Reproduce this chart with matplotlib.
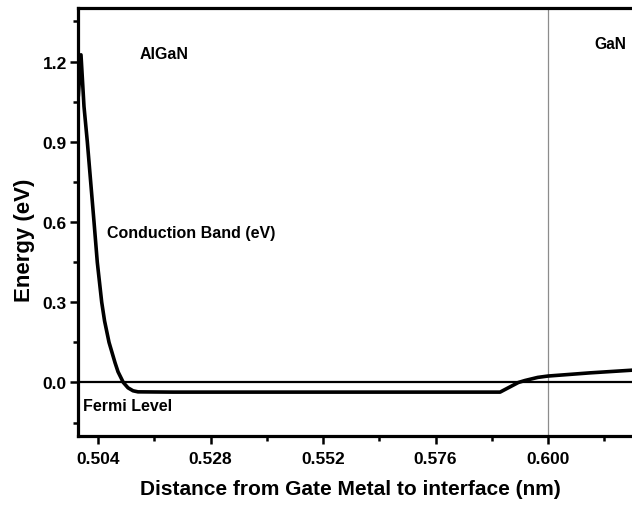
import matplotlib
matplotlib.use("Agg")
import matplotlib.pyplot as plt
from matplotlib.ticker import FixedLocator

plt.rcParams['font.family'] = ['Liberation Sans', 'DejaVu Sans']
plt.rcParams['font.weight'] = 'bold'

# Conduction band profile
x_cb = [0.4998, 0.50037, 0.50101, 0.50172, 0.50244, 0.50315, 0.50385, 0.50479,
        0.50540, 0.50635, 0.50763, 0.50827, 0.50940, 0.51040, 0.51147, 0.51253,
        0.5200, 0.5500, 0.5800, 0.58976, 0.59366, 0.59509, 0.59780, 0.59993,
        0.60896, 0.61792]
y_cb = [1.07, 1.225, 1.032, 0.900, 0.749, 0.600, 0.449, 0.300,
        0.230, 0.150, 0.074, 0.040, 0.000, -0.020, -0.031, -0.035,
        -0.036, -0.036, -0.036, -0.036, 0.000, 0.0075, 0.019, 0.024,
        0.036, 0.046]

fermi_level = 0.0
interface_x = 0.600

x_major = [0.504, 0.528, 0.552, 0.576, 0.600]
x_labels = ["0.504", "0.528", "0.552", "0.576", "0.600"]
x_minor = [0.516, 0.540, 0.564, 0.588, 0.612]
y_major = [0.0, 0.3, 0.6, 0.9, 1.2]
y_labels = ["0.0", "0.3", "0.6", "0.9", "1.2"]
y_minor = [-0.15, 0.15, 0.45, 0.75, 1.05, 1.35]

fig = plt.figure(figsize=(6.32, 5.06), dpi=100)
ax = fig.add_axes([0.1234, 0.1364, 0.8766, 0.8458])

ax.axvline(interface_x, color='#8c8c8c', lw=0.9, zorder=1)
ax.axhline(fermi_level, color='black', lw=1.6, zorder=2)
ax.plot(x_cb, y_cb, color='black', lw=2.6, zorder=3, solid_joinstyle='round',
        solid_capstyle='round')

ax.set_xlim(0.49973, 0.6179)
ax.set_ylim(-0.2, 1.4)

ax.xaxis.set_major_locator(FixedLocator(x_major))
ax.set_xticklabels(x_labels)
ax.xaxis.set_minor_locator(FixedLocator(x_minor))
ax.yaxis.set_major_locator(FixedLocator(y_major))
ax.set_yticklabels(y_labels)
ax.yaxis.set_minor_locator(FixedLocator(y_minor))

ax.tick_params(which='major', direction='out', length=5.5, width=1.8, labelsize=12.5, pad=2.5)
ax.tick_params(axis='x', which='major', pad=5)
ax.tick_params(which='minor', direction='out', length=3.5, width=1.8)
for lab in ax.get_xticklabels() + ax.get_yticklabels():
    lab.set_fontweight('bold')

for side in ['left', 'bottom', 'top']:
    ax.spines[side].set_linewidth(2.3)
ax.spines['right'].set_visible(False)

ax.set_xlabel("Distance from Gate Metal to interface (nm)", fontsize=15, fontweight='bold')
ax.set_ylabel("Energy (eV)", fontsize=16, fontweight='bold')
ax.xaxis.set_label_coords(0.492, -0.1005)
ax.yaxis.set_label_coords(-0.078, 0.46)

ax.text(0.5181, 1.23, "AlGaN", fontsize=11.5, fontweight='bold', ha='center', va='center')
ax.text(0.6132, 1.2675, "GaN", fontsize=11.2, fontweight='bold', ha='center', va='center')
ax.text(0.5059, 0.559, "Conduction Band (eV)", fontsize=11.5, fontweight='bold', ha='left', va='center')
ax.text(0.5008, -0.086, "Fermi Level", fontsize=11.5, fontweight='bold', ha='left', va='center')

fig.savefig("out.png", dpi=100)
